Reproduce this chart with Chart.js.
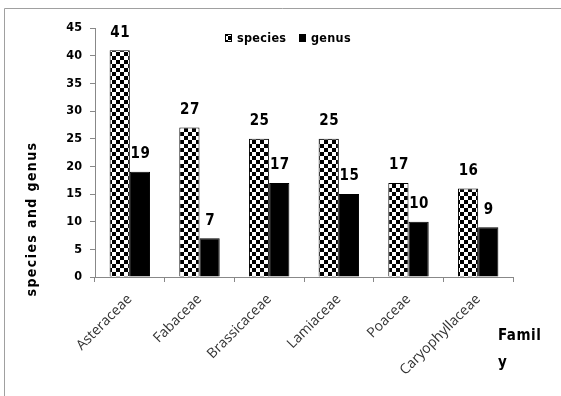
<!DOCTYPE html>
<html><head><meta charset="utf-8">
<script src="https://cdn.jsdelivr.net/npm/chart.js@4"></script>
<style>html,body{margin:0;padding:0;background:#fff}#wrap{width:561px;height:396px;position:relative}</style>
</head><body><div id="wrap"><canvas id="c" width="561" height="396"></canvas></div>
<script>
const categories = ["Asteraceae","Fabaceae","Brassicaceae","Lamiaceae","Poaceae","Caryophyllaceae"];
const speciesValues = [41,27,25,25,17,16];
const genusValues = [19,7,17,15,10,9];
const seriesNames = ["species","genus"];
const yTicks = [0,5,10,15,20,25,30,35,40,45];
const yTitle = "species and genus";
const xTitleLines = ["Famil","y"];

const pc = document.createElement('canvas'); pc.width = 8; pc.height = 8;
const px = pc.getContext('2d');
px.fillStyle = '#fff'; px.fillRect(0,0,8,8);
px.fillStyle = '#000'; px.fillRect(0,0,4,4); px.fillRect(4,4,4,4);
const checker = document.getElementById('c').getContext('2d').createPattern(pc,'repeat');

const boldFont = '"DejaVu Sans Condensed", "DejaVu Sans", sans-serif';
const narrowFont = '"Liberation Sans Narrow", "DejaVu Sans Condensed", sans-serif';

const extras = {
  id:'extras',
  afterDraw(chart){
    const ctx = chart.ctx;
    ctx.save();
    // frame
    ctx.strokeStyle = '#a0a0a0'; ctx.lineWidth = 1;
    ctx.beginPath(); ctx.moveTo(4.5,396); ctx.lineTo(4.5,8.5); ctx.lineTo(561,8.5); ctx.stroke();
    // data labels
    ctx.fillStyle = '#000'; ctx.font = 'bold 15px ' + narrowFont;
    ctx.letterSpacing = '0.5px';
    ctx.textAlign = 'center'; ctx.textBaseline = 'bottom';
    chart.data.datasets.forEach((ds,i)=>{
      chart.getDatasetMeta(i).data.forEach((bar,j)=>{
        ctx.fillText(String(ds.data[j]), bar.x + 0.5, bar.y - 10);
      });
    });
    // y title
    ctx.save();
    ctx.translate(32, 219); ctx.rotate(-Math.PI/2);
    ctx.font = 'bold 14px ' + boldFont; ctx.letterSpacing = '1.4px';
    ctx.textAlign='center'; ctx.textBaseline='middle';
    ctx.fillText(yTitle, 0, 0);
    ctx.restore();
    // x title
    ctx.letterSpacing = '0.5px';
    ctx.font = 'bold 15px ' + boldFont; ctx.textAlign='left'; ctx.textBaseline='middle';
    ctx.fillText(xTitleLines[0], 498, 336);
    ctx.fillText(xTitleLines[1], 498, 363);
    // legend
    ctx.font = 'bold 12.5px ' + boldFont; ctx.textBaseline='middle'; ctx.letterSpacing = '0.3px';
    const lx = [225, 299];
    chart.data.datasets.forEach((ds,i)=>{
      ctx.fillStyle = ds.backgroundColor;
      ctx.fillRect(lx[i], 34, 7, 8);
      ctx.strokeStyle='#000'; ctx.strokeRect(lx[i]+0.5, 34.5, 6, 7);
      ctx.fillStyle='#000';
      ctx.fillText(ds.label, lx[i]+12, 38.5);
    });
    ctx.restore();
  }
};

new Chart(document.getElementById('c'), {
  type:'bar',
  data:{
    labels: categories,
    datasets:[
      {label: seriesNames[0], data: speciesValues, backgroundColor: checker, borderColor:'#000', borderWidth:1},
      {label: seriesNames[1], data: genusValues, backgroundColor: '#000', borderColor:'#000', borderWidth:1}
    ]
  },
  options:{
    responsive:false, animation:false,
    layout:{padding:{left:0,right:48,top:28,bottom:0}},
    plugins:{legend:{display:false}, tooltip:{enabled:false}},
    datasets:{bar:{categoryPercentage:0.58, barPercentage:1}},
    scales:{
      x:{
        grid:{display:true, drawOnChartArea:false, color:'#888', tickLength:5, offset:true},
        border:{color:'#888'},
        ticks:{autoSkip:false, maxRotation:45, minRotation:45, color:'#333', font:{family:'"Open Sans", sans-serif', size:14}, padding:9},
        afterFit(s){ s.height = 119; }
      },
      y:{
        min:0, max:45,
        afterBuildTicks(s){ s.ticks = yTicks.map(v=>({value:v})); },
        grid:{display:true, drawOnChartArea:false, color:'#888', tickLength:5},
        border:{color:'#888'},
        ticks:{color:'#000', font:{family:boldFont, size:12.5, weight:'bold'}, padding:8},
        afterFit(s){ s.width = 95; }
      }
    }
  },
  plugins:[extras]
});
</script></body></html>
